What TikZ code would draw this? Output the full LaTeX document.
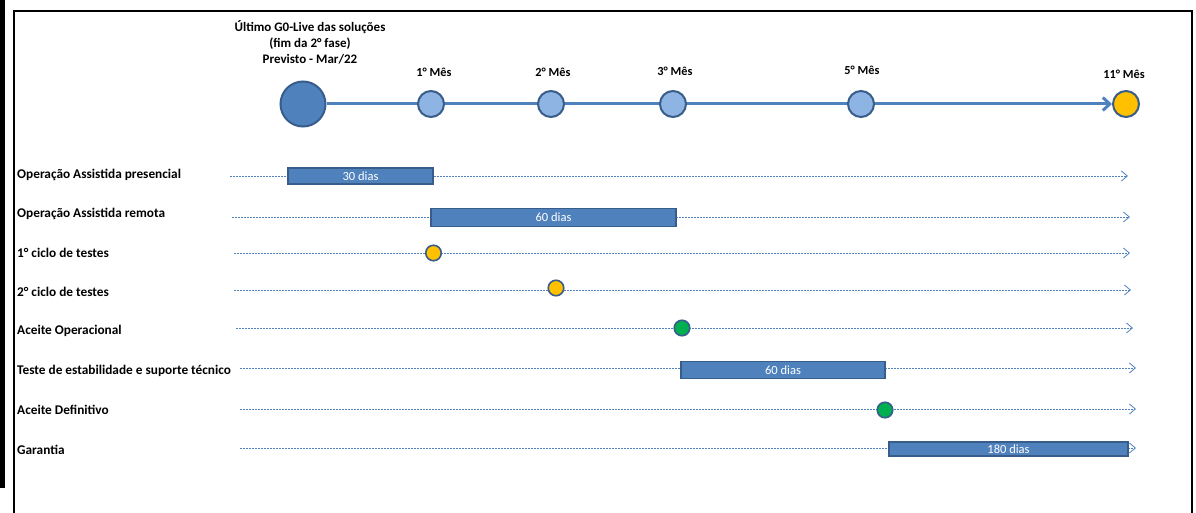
\documentclass[tikz,border=0pt]{standalone}
\usepackage{fontspec}
\setmainfont{Carlito}
\usetikzlibrary{arrows.meta}
\definecolor{tlblue}{HTML}{4F81BD}
\definecolor{tldark}{HTML}{385D8A}
\definecolor{tllight}{HTML}{8EB4E3}
\definecolor{tlyellow}{HTML}{FFC000}
\definecolor{tlgreen}{HTML}{00B050}

\begin{document}
\begin{tikzpicture}[
    x=1pt, y=-1pt,
    golive/.style={circle, draw=tldark, line width=2pt, fill=tlblue, minimum size=45pt, inner sep=0pt},
    month/.style={circle, draw=tldark, line width=2pt, fill=tllight, minimum size=26pt, inner sep=0pt},
    monthlabel/.style={font=\fontsize{12.3}{16}\selectfont\bfseries, inner sep=0pt},
    rowlabel/.style={anchor=west, font=\fontsize{13.3}{15}\selectfont\bfseries, inner sep=0pt},
    bar/.style={rectangle, draw=tldark, line width=1.8pt, fill=tlblue, inner sep=0pt, text=white, font=\fontsize{12.5}{14}\selectfont},
    dot/.style={circle, draw=tldark, line width=1.6pt, minimum size=15.5pt, inner sep=0pt},
    track/.style={tlblue, line width=0.8pt, dash pattern=on 2pt off 1pt, -{Straight Barb[length=6pt,width=10pt]}}
]
\useasboundingbox (0,0) rectangle (1196,513);

% Frame
\fill (0,0) rectangle (5,488);
\draw[line width=1.5pt] (14,513) -- (14,11) -- (1192,11) -- (1192,513);

% Timeline
\node[monthlabel, font=\fontsize{13}{16}\selectfont\bfseries, align=center] (golivelabel) at (310,42) {Último G0-Live das soluções\\(fim da 2° fase)\\Previsto - Mar/22};
\node[golive] (golive) at (303,104) {};
\node[month, fill=tlyellow] (m11) at (1126,104) {};
\draw[tlblue, line width=3pt, -{Straight Barb[length=7pt,width=13pt]}] (golive) -- (m11);
\node[month] (m1) at (431,104) {};
\node[month] (m2) at (551,104) {};
\node[month] (m3) at (673,104) {};
\node[month] (m5) at (861,104) {};
\node[monthlabel] (l1) at (434,72) {1° Mês};
\node[monthlabel] (l2) at (553,72) {2° Mês};
\node[monthlabel] (l3) at (675,71) {3° Mês};
\node[monthlabel] (l5) at (862,70) {5° Mês};
\node[monthlabel] (l11) at (1124,74) {11° Mês};

% Operação Assistida presencial
\node[rowlabel] (r1) at (17,175) {Operação Assistida presencial};
\coordinate (r1a) at (230,176);
\coordinate (r1b) at (1128,176);
\draw[track] (r1a) -- (r1b);
\node[bar, minimum width=145pt, minimum height=16.5pt] (d30) at (360.5,176) {30 dias};

% Operação Assistida remota
\node[rowlabel] (r2) at (17,214) {Operação Assistida remota};
\coordinate (r2a) at (232,217);
\coordinate (r2b) at (1130,217);
\draw[track] (r2a) -- (r2b);
\node[bar, minimum width=245pt, minimum height=18pt] (d60a) at (553.5,217.5) {60 dias};

% 1° ciclo de testes
\node[rowlabel] (r3) at (17,253) {1° ciclo de testes};
\coordinate (r3a) at (234,253);
\coordinate (r3b) at (1130,253);
\draw[track] (r3a) -- (r3b);
\node[dot, fill=tlyellow] (c1) at (433.5,253) {};

% 2° ciclo de testes
\node[rowlabel] (r4) at (17,292) {2° ciclo de testes};
\coordinate (r4a) at (234,290);
\coordinate (r4b) at (1131,290);
\draw[track] (r4a) -- (r4b);
\node[dot, fill=tlyellow] (c2) at (556,288) {};

% Aceite Operacional
\node[rowlabel] (r5) at (17,331) {Aceite Operacional};
\coordinate (r5a) at (236,328);
\coordinate (r5b) at (1133,328);
\draw[track] (r5a) -- (r5b);
\node[dot, fill=tlgreen] (ao) at (682,328) {};

% Teste de estabilidade e suporte técnico
\node[rowlabel] (r6) at (17,371) {Teste de estabilidade e suporte técnico};
\coordinate (r6a) at (240,368);
\coordinate (r6b) at (1136,368);
\draw[track] (r6a) -- (r6b);
\node[bar, minimum width=204pt, minimum height=17pt] (d60b) at (783,370) {60 dias};

% Aceite Definitivo
\node[rowlabel] (r7) at (17,410) {Aceite Definitivo};
\coordinate (r7a) at (240,409);
\coordinate (r7b) at (1136,409);
\draw[track] (r7a) -- (r7b);
\node[dot, fill=tlgreen] (ad) at (885,410) {};

% Garantia
\node[rowlabel] (r8) at (17,450) {Garantia};
\coordinate (r8a) at (240,448);
\coordinate (r8b) at (1136,448);
\draw[track] (r8a) -- (r8b);
\node[bar, minimum width=239pt, minimum height=13.5pt] (d180) at (1008.5,449) {180 dias};

\end{tikzpicture}
\end{document}
